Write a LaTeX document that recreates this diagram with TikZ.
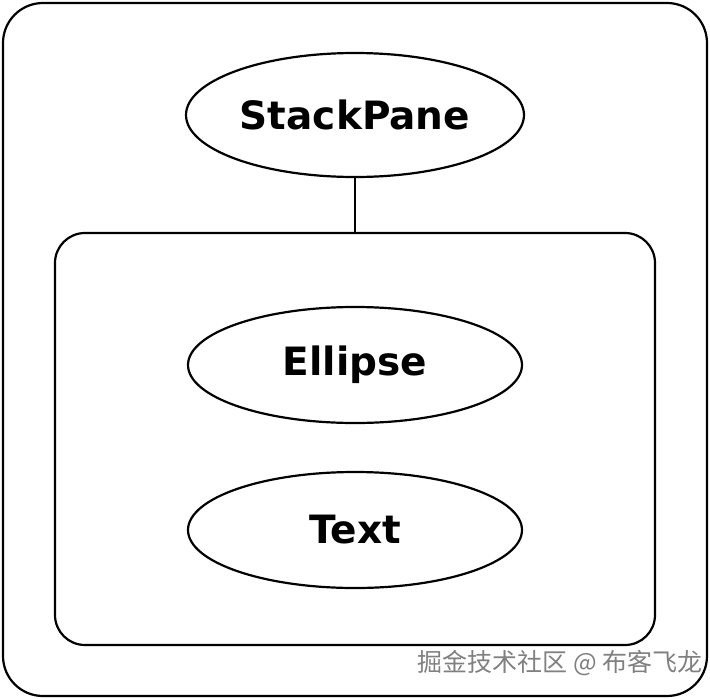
\documentclass[tikz,border=0pt]{standalone}
\usepackage{fontspec}
\setmainfont{DejaVu Sans}
\newfontfamily\cjk{Noto Sans CJK SC}
\usetikzlibrary{shapes.geometric}
\begin{document}
\begin{tikzpicture}[x=1pt,y=-1pt,
  box/.style={draw,line width=2.2pt},
  ell/.style={draw,line width=2.2pt,ellipse,inner sep=0pt,font=\fontsize{39}{46}\selectfont\bfseries}]
\useasboundingbox (0,0) rectangle (710,699);
\draw[box,rounded corners=40pt] (3,3) rectangle (707,696);
\draw[box,rounded corners=30pt] (55,233) rectangle (655,645);
\node[ell,minimum width=338pt,minimum height=124pt] (sp) at (355,115) {StackPane};
\node[ell,minimum width=334pt,minimum height=116pt] (el) at (355,365) {Ellipse};
\node[ell,minimum width=334pt,minimum height=116pt] (tx) at (355,530) {Text};
\coordinate (top) at (355,233);
\draw[line width=2.2pt] (sp.south) -- (top);
\node[anchor=east,text=gray,font=\cjk\fontsize{25}{30}\selectfont] (wm) at (706,663) {掘金技术社区 @ 布客飞龙};
\end{tikzpicture}
\end{document}
